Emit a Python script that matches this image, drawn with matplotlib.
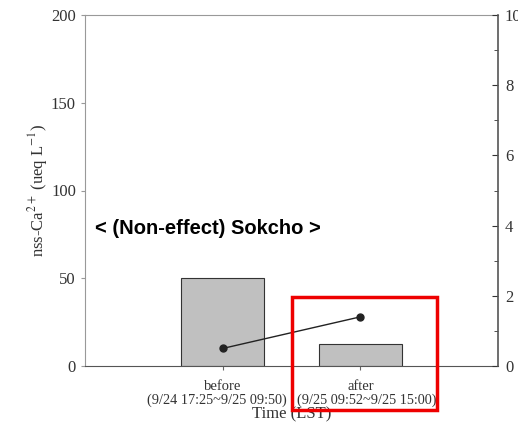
import matplotlib.pyplot as plt
from matplotlib.patches import Rectangle
from matplotlib.ticker import MultipleLocator

# data
periods = ["before", "after"]
period_spans = ["(9/24 17:25~9/25 09:50)", "(9/25 09:52~9/25 15:00)"]
ca_conc = [50, 12.5]        # nss-Ca2+ (ueq/L), bars, left axis
right_vals = [0.5, 1.4]     # line, right axis
left_ticks = [0, 50, 100, 150, 200]
right_ticks = [0, 2, 4, 6, 8, 10]

plt.rcParams['font.family'] = ['Liberation Serif', 'DejaVu Serif']
plt.rcParams['mathtext.fontset'] = 'stix'

fig = plt.figure(figsize=(5.18, 4.24), dpi=100)
ax = fig.add_axes([85 / 518, 1 - 366 / 424, 413 / 518, 351 / 424])

x = [1, 2]
ax.bar(x, ca_conc, width=0.6, color='#c0c0c0', edgecolor='#333333', linewidth=0.8, zorder=2)
ax.set_xlim(0, 3)
ax.set_ylim(0, 200)
ax.set_yticks(left_ticks)
ax.set_xticks(x)
ax.set_xticklabels(periods, fontsize=10.5, color='#333333')
# time spans under each category, nudged apart like the original
for xi, span, dx in zip(x, period_spans, [-6, 6]):
    ax.annotate(span, xy=(xi, 0), xycoords=('data', 'axes fraction'),
                xytext=(dx, -34), textcoords='offset pixels',
                ha='center', va='center', fontsize=10.3, color='#333333')
ax.set_xlabel("Time (LST)", fontsize=12, color='#333333', labelpad=9.5)
ax.set_ylabel(r"nss-Ca$^{2+}$ (ueq L$^{-1}$)", fontsize=12, color='#333333', labelpad=1)
ax.tick_params(axis='y', labelsize=12, colors='#333333', length=3, color='#999999')
ax.tick_params(axis='x', length=3, color='#666666', pad=7)
for side in ['left', 'top']:
    ax.spines[side].set_color('#999999')
ax.spines['bottom'].set_color('#555555')
ax.spines['right'].set_visible(False)

ax2 = ax.twinx()
ax2.plot(x, right_vals, color='#222222', linewidth=1, marker='o', markersize=5, zorder=3)
ax2.set_ylim(0, 10)
ax2.set_yticks(right_ticks)
ax2.yaxis.set_minor_locator(MultipleLocator(1))
ax2.tick_params(axis='y', which='both', direction='in', labelsize=12, colors='#333333', length=4, pad=5)
ax2.tick_params(axis='y', which='minor', length=3)
ax2.spines['right'].set_color('#555555')
ax2.spines['right'].set_linewidth(1.2)
for side in ['left', 'top', 'bottom']:
    ax2.spines[side].set_visible(False)

fig.text(95 / 518, 1 - 229 / 424, "< (Non-effect) Sokcho >", fontsize=14.5, fontweight='bold',
         family=['Liberation Sans', 'DejaVu Sans'], va='center', ha='left')

fig.patches.append(Rectangle((292 / 518, 1 - 410 / 424), 145 / 518, 113 / 424,
                             transform=fig.transFigure, fill=False, edgecolor='#ee0000', linewidth=2.5))

fig.savefig("out.png", dpi=100)
